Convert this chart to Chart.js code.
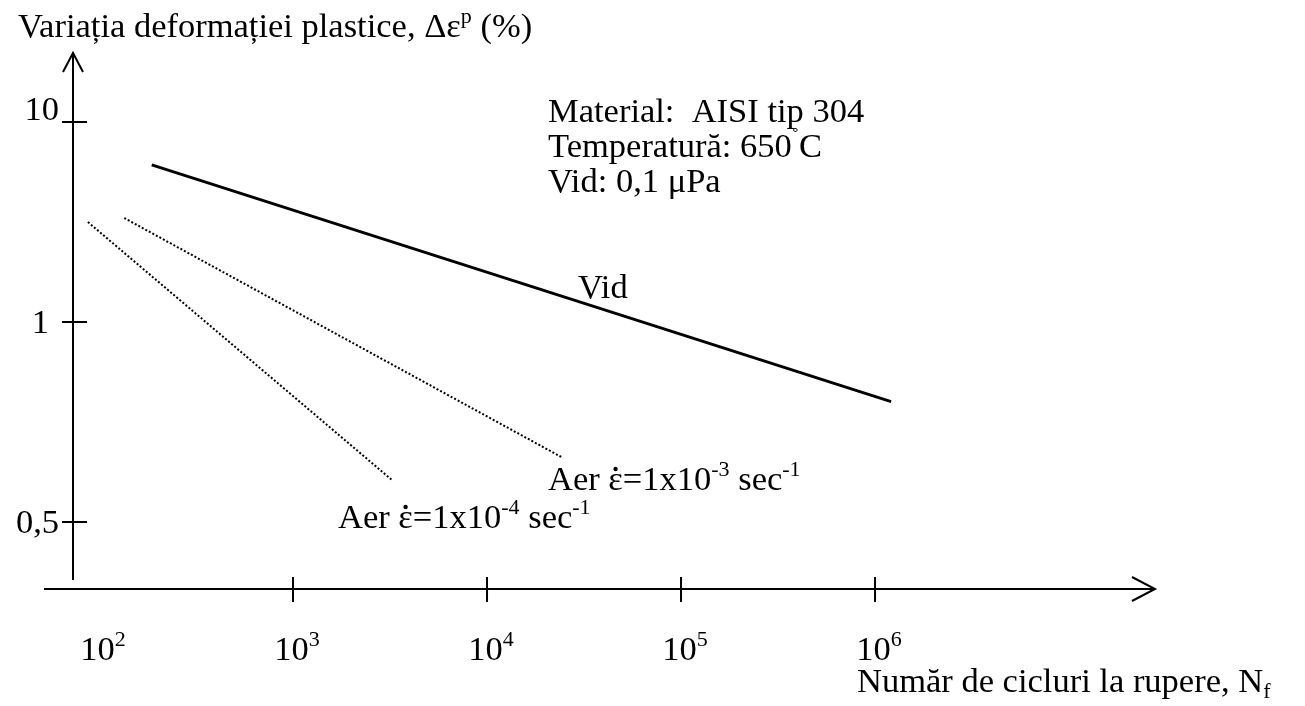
<!DOCTYPE html>
<html>
<head>
<meta charset="utf-8">
<script src="https://cdn.jsdelivr.net/npm/chart.js@4.4.1/dist/chart.umd.min.js"></script>
<style>
  html, body { margin: 0; padding: 0; background: #fff; }
  canvas { display: block; }
</style>
</head>
<body>
<canvas id="chart" width="1305" height="706"></canvas>
<script>
// === DATE ===
const xTickValues = [1e2, 1e3, 1e4, 1e5, 1e6];
const xTickExponents = ['2', '3', '4', '5', '6'];
const yTickValues = [10, 1, 0.1];
const yTickLabels = ['10', '1', '0,5'];

// Vid
const vidCicluri = [187, 1.21e6];
const vidDeform = [6.1, 0.40];
// Aer, 1x10^-3 sec^-1
const aer3Cicluri = [135, 24660];
const aer3Deform = [3.31, 0.209];
// Aer, 1x10^-4 sec^-1
const aer4Cicluri = [87.7, 3240];
const aer4Deform = [3.16, 0.162];

const puncte = (xs, ys) => xs.map((x, i) => ({ x, y: ys[i] }));

const FONT = '"Liberation Serif", "Times New Roman", serif';
const MARE = 34.5;
const MIC = 22;

// text cu indici / exponenti: [text, 'sup' | 'sub' | 'punct' | undefined]
const scrieText = (ctx, parti, x, y, align = 'left') => {
  const mic = tip => tip === 'sup' || tip === 'sub';
  const latimi = parti.map(([t, tip]) => {
    ctx.font = `${mic(tip) ? MIC : MARE}px ${FONT}`;
    return ctx.measureText(t).width;
  });
  const total = latimi.reduce((a, b) => a + b, 0);
  let cx = align === 'center' ? x - total / 2 : align === 'right' ? x - total : x;
  ctx.textBaseline = 'alphabetic';
  ctx.textAlign = 'left';
  parti.forEach(([t, tip], i) => {
    ctx.font = `${mic(tip) ? MIC : MARE}px ${FONT}`;
    const dy = tip === 'sup' ? -14 : tip === 'sub' ? 6 : 0;
    ctx.fillText(t, cx, y + dy);
    if (tip === 'punct') {
      // punct deasupra (derivata in timp)
      ctx.beginPath();
      ctx.arc(cx + latimi[i] / 2, y - 21, 2.2, 0, Math.PI * 2);
      ctx.fill();
    }
    cx += latimi[i];
  });
};

// pozitia etichetelor Y fata de gradatie
const decalajY = [-2, 11, 11];
const decalajX = [0, -10, 0];

const axe = {
  id: 'axe',
  beforeDraw(chart) {
    const { ctx } = chart;
    ctx.save();
    ctx.fillStyle = '#fff';
    ctx.fillRect(0, 0, chart.width, chart.height);
    ctx.restore();
  },
  afterDraw(chart) {
    const { ctx, chartArea: a, scales: { x, y } } = chart;
    ctx.save();
    ctx.strokeStyle = '#000';
    ctx.fillStyle = '#000';
    ctx.lineWidth = 2;
    ctx.lineCap = 'butt';

    // axa Y cu sageata
    ctx.beginPath();
    ctx.moveTo(a.left, a.top);
    ctx.lineTo(a.left, a.bottom - 9);
    ctx.moveTo(a.left - 10, a.top + 19);
    ctx.lineTo(a.left, a.top);
    ctx.lineTo(a.left + 10, a.top + 19);
    ctx.stroke();

    // axa X cu sageata
    ctx.beginPath();
    ctx.moveTo(a.left - 29, a.bottom);
    ctx.lineTo(a.right, a.bottom);
    ctx.moveTo(a.right - 23, a.bottom - 12);
    ctx.lineTo(a.right, a.bottom);
    ctx.lineTo(a.right - 23, a.bottom + 12);
    ctx.stroke();

    // gradatii X (fara 10^2)
    ctx.beginPath();
    xTickValues.slice(1).forEach(v => {
      const px = x.getPixelForValue(v);
      ctx.moveTo(px, a.bottom - 12);
      ctx.lineTo(px, a.bottom + 13);
    });
    // gradatii Y
    yTickValues.forEach(v => {
      const py = y.getPixelForValue(v);
      ctx.moveTo(a.left - 11, py);
      ctx.lineTo(a.left + 14, py);
    });
    ctx.stroke();

    // etichete X
    xTickValues.forEach((v, i) => {
      scrieText(ctx, [['10'], [xTickExponents[i], 'sup']], x.getPixelForValue(v) + 4, a.bottom + 71, 'center');
    });
    // etichete Y
    yTickValues.forEach((v, i) => {
      scrieText(ctx, [[yTickLabels[i]]], a.left - 14 + decalajX[i], y.getPixelForValue(v) + decalajY[i], 'right');
    });

    // titluri axe
    scrieText(ctx, [['Variația deformației plastice, Δε'], ['p', 'sup'], [' (%)']], 18, 37);
    scrieText(ctx, [['Număr de cicluri la rupere, N'], ['f', 'sub']], 857, 692);

    // note
    scrieText(ctx, [['Material:  AISI tip 304']], 548, 122);
    scrieText(ctx, [['Temperatură: 650'], ['˚', 'sup'], ['C']], 548, 157);
    scrieText(ctx, [['Vid: 0,1 μPa']], 548, 192);
    scrieText(ctx, [['Vid']], 578, 298);
    scrieText(ctx, [['Aer '], ['ε', 'punct'], ['=1x10'], ['-3', 'sup'], [' sec'], ['-1', 'sup']], 548, 490);
    scrieText(ctx, [['Aer '], ['ε', 'punct'], ['=1x10'], ['-4', 'sup'], [' sec'], ['-1', 'sup']], 338, 528);
    ctx.restore();
  }
};

new Chart(document.getElementById('chart'), {
  type: 'scatter',
  data: {
    datasets: [
      {
        label: 'Vid',
        data: puncte(vidCicluri, vidDeform),
        showLine: true,
        borderColor: '#000',
        borderWidth: 2.8,
        pointRadius: 0
      },
      {
        label: 'Aer 1e-3',
        data: puncte(aer3Cicluri, aer3Deform),
        showLine: true,
        borderColor: '#000',
        borderWidth: 2,
        borderDash: [2, 2],
        pointRadius: 0
      },
      {
        label: 'Aer 1e-4',
        data: puncte(aer4Cicluri, aer4Deform),
        showLine: true,
        borderColor: '#000',
        borderWidth: 2,
        borderDash: [2, 2],
        pointRadius: 0
      }
    ]
  },
  options: {
    responsive: false,
    animation: false,
    layout: { padding: { left: 73, top: 53, right: 150, bottom: 117 } },
    plugins: { legend: { display: false }, tooltip: { enabled: false } },
    scales: {
      x: { type: 'logarithmic', display: false, min: Math.pow(10, 1.866), max: Math.pow(10, 7.443) },
      y: { type: 'logarithmic', display: false, min: Math.pow(10, -1.335), max: Math.pow(10, 1.345) }
    }
  },
  plugins: [axe]
});
</script>
</body>
</html>
